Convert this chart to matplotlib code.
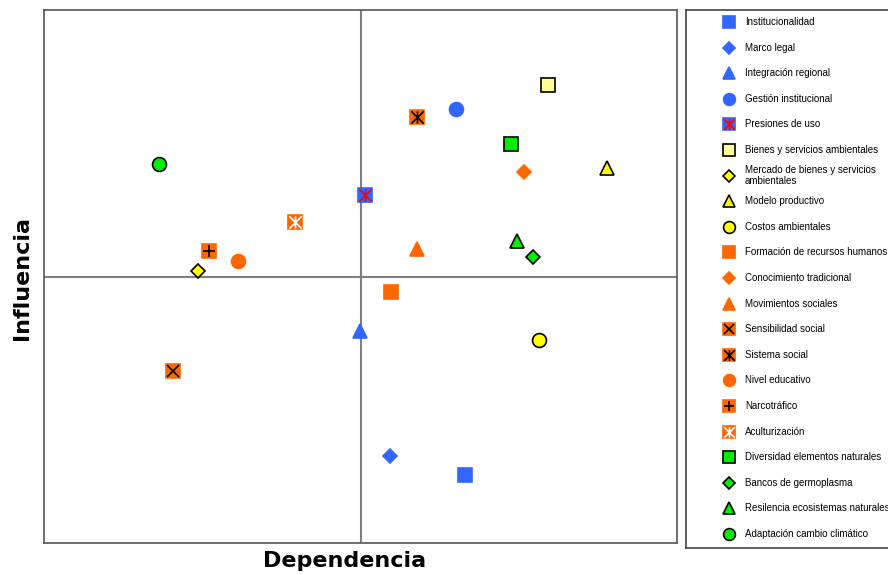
import matplotlib.pyplot as plt
from matplotlib.path import Path

# variables (dependencia, influencia) on a 0-100 scale, axes cross at 50
names = ["Institucionalidad", "Marco legal", "Integración regional", "Gestión institucional",
         "Presiones de uso", "Bienes y servicios ambientales",
         "Mercado de bienes y servicios\nambientales", "Modelo productivo", "Costos ambientales",
         "Formación de recursos humanos", "Conocimiento tradicional", "Movimientos sociales",
         "Sensibilidad social", "Sistema social", "Nivel educativo", "Narcotráfico",
         "Aculturización", "Diversidad elementos naturales", "Bancos de germoplasma",
         "Resilencia ecosistemas naturales", "Adaptación cambio climático"]
dependencia = [66.5, 54.7, 49.9, 65.1, 50.7, 79.6, 24.3, 88.9, 78.2, 54.8, 75.8,
               58.9, 20.4, 58.9, 30.6, 26.1, 39.7, 73.8, 77.3, 74.7, 18.2]
influencia = [12.8, 16.3, 39.8, 81.4, 65.3, 85.9, 51.0, 70.4, 38.1, 47.1, 69.6,
              55.2, 32.3, 79.9, 52.9, 54.8, 60.2, 74.9, 53.7, 56.7, 71.1]

blue, orange, yellow, green = "#3366FF", "#FF6600", "#FFFF00", "#00EE00"
star = Path([(-1, -1), (1, 1), (-1, 1), (1, -1), (0, -1), (0, 1)],
            [Path.MOVETO, Path.LINETO, Path.MOVETO, Path.LINETO, Path.MOVETO, Path.LINETO])

# (marker, face, edge, size, overlay marker, overlay color)
styles = [
    ("s", blue, blue, 10, None, None),
    ("D", blue, blue, 7.5, None, None),
    ("^", blue, blue, 10, None, None),
    ("o", blue, blue, 10, None, None),
    ("s", blue, blue, 10.5, star, "red"),
    ("s", "#FFFF99", "black", 10, None, None),
    ("D", yellow, "black", 7.5, None, None),
    ("^", yellow, "black", 10, None, None),
    ("o", yellow, "black", 10, None, None),
    ("s", orange, orange, 10, None, None),
    ("D", orange, orange, 7.5, None, None),
    ("^", orange, orange, 10, None, None),
    ("s", orange, orange, 10.5, "x", "black"),
    ("s", orange, orange, 10.5, star, "black"),
    ("o", orange, orange, 10, None, None),
    ("s", orange, orange, 10.5, "+", "black"),
    ("s", orange, orange, 10.5, star, "white"),
    ("s", green, "black", 10, None, None),
    ("D", green, "black", 7.5, None, None),
    ("^", green, "black", 10, None, None),
    ("o", green, "black", 10, None, None),
]


def draw(ax, x, y, st, scale=1.0):
    m, fc, ec, ms, om, oc = st
    ax.plot(x, y, marker=m, ms=ms * scale, mfc=fc, mec=ec, mew=1.2, ls="none", zorder=3)
    if om is not None:
        ax.plot(x, y, marker=om, ms=ms * scale * 0.85, mec=oc, mew=1.2, ls="none", zorder=4)


fig = plt.figure(figsize=(8.88, 5.75), dpi=100)
ax = fig.add_axes([44 / 888, 1 - 543 / 575, 633 / 888, 533 / 575])
ax.set_xlim(0, 100)
ax.set_ylim(0, 100)
ax.axvline(50, color="#808080", lw=1.5, zorder=1)
ax.axhline(50, color="#808080", lw=1.5, zorder=1)
for s in ax.spines.values():
    s.set_color("#555555")
    s.set_linewidth(1.2)
ax.set_xticks([])
ax.set_yticks([])
for i in range(len(names)):
    draw(ax, dependencia[i], influencia[i], styles[i])
fig.text(345 / 888, 1 - 561 / 575, "Dependencia", fontsize=16, fontweight="bold",
         family="DejaVu Sans", ha="center", va="center")
fig.text(22 / 888, 1 - 278 / 575, "Influencia", fontsize=16, fontweight="bold",
         family="DejaVu Sans", ha="center", va="center", rotation=90)

# legend panel
lg = fig.add_axes([686 / 888, 1 - 548 / 575, 210 / 888, 538 / 575])
lg.set_xlim(686, 896)
lg.set_ylim(548, 10)
lg.set_xticks([])
lg.set_yticks([])
for s in lg.spines.values():
    s.set_color("#444444")
    s.set_linewidth(1.2)
for i, name in enumerate(names):
    yy = 22 + 25.6 * i
    draw(lg, 729, yy, styles[i], scale=0.85)
    lg.text(745, yy, name, fontsize=7, family="Liberation Sans", va="center", ha="left",
            linespacing=1.1)

fig.savefig("out.png", dpi=100)
